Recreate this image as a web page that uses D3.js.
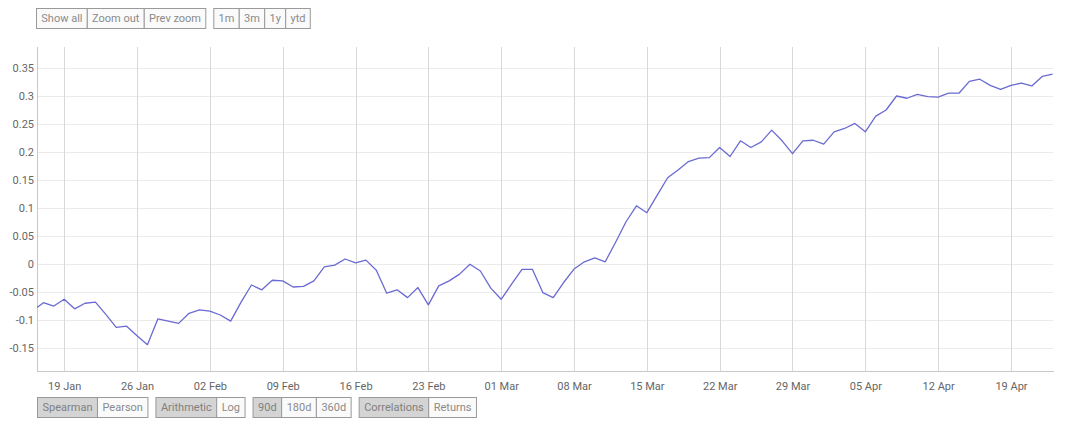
<!DOCTYPE html>
<html>
<head>
<meta charset="utf-8">
<script src="https://cdn.jsdelivr.net/npm/d3@7/dist/d3.min.js"></script>
<style>
  html, body { margin: 0; padding: 0; background: #ffffff; }
  svg { display: block; font-family: Roboto, "Noto Sans", sans-serif; }
</style>
</head>
<body>
<svg id="chart" width="1080" height="426"></svg>
<script>
// ---- data ----
const startDate = "2020-01-16";
const values = [
  -0.083, -0.069, -0.075, -0.063, -0.080, -0.070, -0.068, -0.090, -0.113, -0.111, // Jan 16-25
  -0.128, -0.144, -0.098, -0.102, -0.106, -0.088, -0.082, -0.084, -0.091, -0.102, // Jan 26-Feb 4
  -0.068, -0.0375, -0.046, -0.029, -0.030, -0.041, -0.040, -0.030, -0.005, -0.002, // Feb 5-14
  0.009, 0.002, 0.007, -0.011, -0.052, -0.046, -0.060, -0.042, -0.073, -0.039,     // Feb 15-24
  -0.030, -0.018, -0.0005, -0.0125, -0.043, -0.063, -0.036, -0.0095, -0.0095, -0.051, // Feb 25-Mar 5
  -0.060, -0.033, -0.009, 0.004, 0.011, 0.004, 0.039, 0.0755, 0.104, 0.0917,       // Mar 6-15
  0.123, 0.154, 0.168, 0.183, 0.189, 0.190, 0.208, 0.192, 0.220, 0.208,            // Mar 16-25
  0.218, 0.239, 0.220, 0.197, 0.220, 0.221, 0.214, 0.236, 0.242, 0.251,            // Mar 26-Apr 4
  0.236, 0.264, 0.275, 0.300, 0.296, 0.303, 0.299, 0.298, 0.305, 0.305,            // Apr 5-14
  0.326, 0.330, 0.319, 0.312, 0.319, 0.323, 0.318, 0.335, 0.339                    // Apr 15-23
];
const yTicks = [-0.15, -0.1, -0.05, 0, 0.05, 0.1, 0.15, 0.2, 0.25, 0.3, 0.35];
const yTickLabels = ["-0.15", "-0.1", "-0.05", "0", "0.05", "0.1", "0.15", "0.2", "0.25", "0.3", "0.35"];
const xDomain = ["2020-01-16T09:15:00", "2020-04-23T00:00:00"];
const yDomain = [-0.191, 0.3875];
const topButtonGroups = [["Show all", "Zoom out", "Prev zoom"], ["1m", "3m", "1y", "ytd"]];
const bottomButtonGroups = [["Spearman", "Pearson"], ["Arithmetic", "Log"], ["90d", "180d", "360d"], ["Correlations", "Returns"]];
const bottomSelected = ["Spearman", "Arithmetic", "90d", "Correlations"];

// ---- layout ----
const svg = d3.select("#chart");
const plot = { left: 37, right: 1052.6, top: 47, bottom: 371 };

const parse = d3.timeParse("%Y-%m-%d");
const t0 = parse(startDate);
const data = values.map((v, i) => ({ date: d3.timeDay.offset(t0, i), value: v }));

const x = d3.scaleTime()
  .domain(xDomain.map(s => new Date(s)))
  .range([plot.left, plot.right]);
const y = d3.scaleLinear().domain(yDomain).range([plot.bottom, plot.top]);

// horizontal gridlines
svg.append("g")
  .attr("transform", `translate(${plot.left},0)`)
  .call(d3.axisLeft(y).tickValues(yTicks).tickSize(-(plot.right - plot.left)).tickFormat(""))
  .call(g => g.select(".domain").remove())
  .call(g => g.selectAll(".tick line").attr("stroke", "#ebebeb").attr("shape-rendering", "crispEdges"));

// vertical gridlines (weekly, Sundays)
const xTicks = d3.timeWeek.every(1).range(x.domain()[0], x.domain()[1]);
svg.append("g")
  .attr("transform", `translate(0,${plot.bottom})`)
  .call(d3.axisBottom(x).tickValues(xTicks).tickSize(-(plot.bottom - plot.top)).tickFormat(""))
  .call(g => g.select(".domain").remove())
  .call(g => g.selectAll(".tick line").attr("stroke", "#d8d8d8").attr("shape-rendering", "crispEdges"));

// axis lines
svg.append("line")
  .attr("x1", plot.left).attr("x2", plot.left)
  .attr("y1", plot.top).attr("y2", plot.bottom)
  .attr("stroke", "#c8c8c8").attr("shape-rendering", "crispEdges");
svg.append("line")
  .attr("x1", plot.left).attr("x2", plot.right + 1)
  .attr("y1", plot.bottom).attr("y2", plot.bottom)
  .attr("stroke", "#c8c8c8").attr("shape-rendering", "crispEdges");

// y labels
const yAxis = svg.append("g")
  .attr("transform", `translate(${plot.left - 3},0)`)
  .call(d3.axisLeft(y).tickValues(yTicks).tickSize(0).tickFormat((d, i) => yTickLabels[i]));
yAxis.select(".domain").remove();
yAxis.selectAll("text").attr("fill", "#666").attr("font-size", "11px")
  .attr("font-family", "Roboto, sans-serif").attr("dy", "0.35em").attr("x", 0);

// x labels
const xAxis = svg.append("g")
  .attr("transform", `translate(0,${plot.bottom})`)
  .call(d3.axisBottom(x).tickValues(xTicks).tickSize(0).tickFormat(d3.timeFormat("%d %b")));
xAxis.select(".domain").remove();
xAxis.selectAll("text").attr("fill", "#666").attr("font-size", "11px")
  .attr("font-family", "Roboto, sans-serif").attr("y", 11).attr("dy", "0.71em");

// clip
svg.append("clipPath").attr("id", "clip")
  .append("rect").attr("x", plot.left).attr("y", plot.top - 5)
  .attr("width", plot.right - plot.left + 1).attr("height", plot.bottom - plot.top + 10);

// line
const line = d3.line().x(d => x(d.date)).y(d => y(d.value));
svg.append("path")
  .datum(data)
  .attr("clip-path", "url(#clip)")
  .attr("fill", "none")
  .attr("stroke", "#6a6ad2")
  .attr("stroke-width", 1.3)
  .attr("stroke-linejoin", "round")
  .attr("d", line);

// buttons
function buttonGroups(groups, startX, yTop, h, gap, selected, pad) {
  let cx = startX;
  groups.forEach(group => {
    const g = svg.append("g");
    const widths = [];
    group.forEach(label => {
      const t = svg.append("text").attr("font-size", "11px")
        .attr("font-family", "Roboto, sans-serif").text(label);
      widths.push(t.node().getComputedTextLength() + pad * 2);
      t.remove();
    });
    let bx = cx;
    group.forEach((label, i) => {
      const sel = selected.includes(label);
      g.append("rect")
        .attr("x", bx + 0.5).attr("y", yTop + 0.5)
        .attr("width", widths[i]).attr("height", h)
        .attr("fill", sel ? "#d4d4d4" : "#fafafa")
        .attr("stroke", "#9a9a9a").attr("stroke-width", 1);
      g.append("text")
        .attr("x", bx + widths[i] / 2 + 0.5).attr("y", yTop + h / 2 + 0.5)
        .attr("text-anchor", "middle").attr("dy", "0.35em")
        .attr("font-size", "11px").attr("font-family", "Roboto, sans-serif")
        .attr("fill", sel ? "#808080" : "#8a8a8a")
        .text(label);
      bx += widths[i];
    });
    cx = bx + gap;
  });
}
buttonGroups(topButtonGroups, 36, 8, 20, 8, [], 4.8);
buttonGroups(bottomButtonGroups, 37, 397, 20, 8, bottomSelected, 5);
</script>
</body>
</html>
